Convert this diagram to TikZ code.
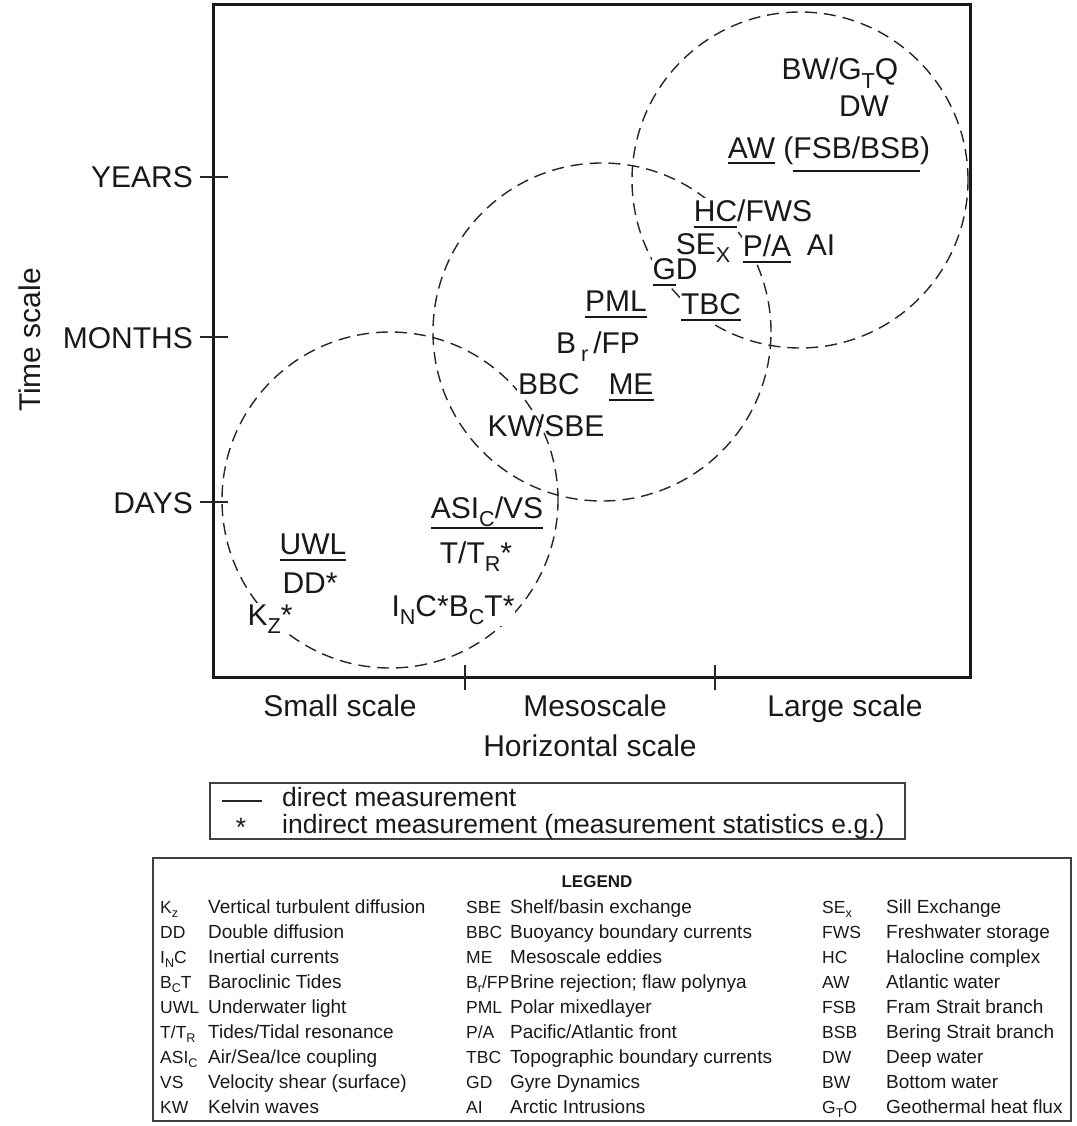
\documentclass[tikz,border=0pt]{standalone}
\usepackage{fontspec}
\setmainfont{Liberation Sans}
\usepackage{graphicx}
\newcommand\lo[1]{\raisebox{-0.28em}{\scalebox{0.72}{#1}}}
\newcommand\ul[2][5pt]{\vtop{\hbox{\raisebox{0pt}[\height][0pt]{#2}}\kern#1\hrule height 1.6pt}}
\tikzset{
  lab/.style={font=\fontsize{30}{34}\selectfont, inner sep=1pt, text=black!90, anchor=base},
  txt/.style={lab, fill=white},
  meas/.style={font=\fontsize{26.5}{30}\selectfont, inner sep=0pt, text=black!90, anchor=base west},
  leg/.style={font=\fontsize{19}{22}\selectfont, anchor=base west, inner sep=0pt, text=black!90},
  abbr/.style={leg, font=\fontsize{17.5}{21}\selectfont},
  circ/.style={dash pattern=on 12pt off 7pt, line width=1.4pt, black!85},
  tick/.style={line width=1.4pt, black!85}
}
\begin{document}
\begin{tikzpicture}[x=1pt,y=-1pt]
\useasboundingbox (0,0) rectangle (1076,1126);
% dashed circles
\draw[circ] (390,500) circle [radius=168pt];
\draw[circ] (602,332) circle [radius=169pt];
\draw[circ] (800,180) circle [radius=168pt];
% frame
\draw[line width=3pt, black!90] (213,5) rectangle (970,677);
% ticks
\draw[tick] (200,177) -- (228,177);
\draw[tick] (200,337) -- (228,337);
\draw[tick] (200,502) -- (228,502);
\draw[tick] (465,665) -- (465,690);
\draw[tick] (715,665) -- (715,690);
% axis labels
\node[lab, anchor=base east] (years) at (194,188) {YEARS};
\node[lab, anchor=base east] (months) at (194,348) {MONTHS};
\node[lab, anchor=base east] (days) at (194,513) {DAYS};
\node[lab, rotate=90, anchor=center] (tscale) at (30,340) {Time scale};
\node[lab] (small) at (340,716) {Small scale};
\node[lab] (meso) at (595,716) {Mesoscale};
\node[lab] (large) at (845,716) {Large scale};
\node[lab] (hscale) at (590,756) {Horizontal scale};
% process labels
\node[txt] (bw) at (840,80) {BW/G\lo{T}Q};
\node[txt] (dw) at (864,117) {DW};
\node[txt] (aw) at (829,159) {\ul[3.5pt]{AW} (\ul[11pt]{FSB/BSB})};
\node[txt] (hc) at (753,221) {\ul{HC}/FWS};
\node[txt] (sex) at (703,254) {SE\lo{X}};
\node[txt] (pa) at (767,256) {\ul{P/A}};
\node[txt] (ai) at (821,255) {AI};
\node[txt] (gd) at (675,279) {\ul{G}D};
\node[txt] (pml) at (616,311) {\ul{PML}};
\node[txt] (tbc) at (711,314) {\ul{TBC}};
\node[txt] (br) at (598,353) {B\,\lo{r}\,/FP};
\node[txt] (bbc) at (549,394) {BBC};
\node[txt] (me) at (631,394) {\ul{ME}};
\node[lab] (kw) at (546,436) {KW/SBE};
\node[txt] (asi) at (487,518) {\ul[9pt]{ASI\lo{C}/VS}};
\node[txt] (ttr) at (476,563) {T/T\lo{R}*};
\node[txt] (uwl) at (313,554) {\ul{UWL}};
\node[txt] (dd) at (310,593) {DD*};
\node[txt] (kz) at (270,625) {K\lo{Z}*};
\node[txt] (inc) at (453,616) {I\lo{N}C*B\lo{C}T*};
% measurement box
\draw[line width=1.5pt, black!75] (210,783) rectangle (905,839);
\draw[line width=1.6pt, black!85] (222,801) -- (262,801);
\node[meas] (direct) at (282,806) {direct measurement};
\node[meas, anchor=base] (star) at (241,836) {*};
\node[meas] (indirect) at (282,833) {indirect measurement (measurement statistics e.g.)};
% legend box
\draw[line width=1.5pt, black!75] (153,858) rectangle (1071,1121);
\node[font=\bfseries\fontsize{17}{20}\selectfont, text=black!90] (legtitle) at (597,882) {LEGEND};
% column 1
\node[abbr] (a1) at (160,913) {K\lo{z}};   \node[leg] (d1) at (208,913) {Vertical turbulent diffusion};
\node[abbr] (a2) at (160,938) {DD};        \node[leg] (d2) at (208,938) {Double diffusion};
\node[abbr] (a3) at (160,963) {I\lo{N}C};  \node[leg] (d3) at (208,963) {Inertial currents};
\node[abbr] (a4) at (160,988) {B\lo{C}T};  \node[leg] (d4) at (208,988) {Baroclinic Tides};
\node[abbr] (a5) at (160,1013) {UWL};      \node[leg] (d5) at (208,1013) {Underwater light};
\node[abbr] (a6) at (160,1038) {T/T\lo{R}};\node[leg] (d6) at (208,1038) {Tides/Tidal resonance};
\node[abbr] (a7) at (160,1063) {ASI\lo{C}};\node[leg] (d7) at (208,1063) {Air/Sea/Ice coupling};
\node[abbr] (a8) at (160,1088) {VS};       \node[leg] (d8) at (208,1088) {Velocity shear (surface)};
\node[abbr] (a9) at (160,1113) {KW};       \node[leg] (d9) at (208,1113) {Kelvin waves};
% column 2
\node[abbr] (b1) at (466,913) {SBE};       \node[leg] (e1) at (510,913) {Shelf/basin exchange};
\node[abbr] (b2) at (466,938) {BBC};       \node[leg] (e2) at (510,938) {Buoyancy boundary currents};
\node[abbr] (b3) at (466,963) {ME};        \node[leg] (e3) at (510,963) {Mesoscale eddies};
\node[abbr] (b4) at (466,988) {B\lo{r}/FP};\node[leg] (e4) at (510,988) {Brine rejection; flaw polynya};
\node[abbr] (b5) at (466,1013) {PML};      \node[leg] (e5) at (510,1013) {Polar mixedlayer};
\node[abbr] (b6) at (466,1038) {P/A};      \node[leg] (e6) at (510,1038) {Pacific/Atlantic front};
\node[abbr] (b7) at (466,1063) {TBC};      \node[leg] (e7) at (510,1063) {Topographic boundary currents};
\node[abbr] (b8) at (466,1088) {GD};       \node[leg] (e8) at (510,1088) {Gyre Dynamics};
\node[abbr] (b9) at (466,1113) {AI};       \node[leg] (e9) at (510,1113) {Arctic Intrusions};
% column 3
\node[abbr] (c1) at (822,913) {SE\lo{x}};  \node[leg] (f1) at (886,913) {Sill Exchange};
\node[abbr] (c2) at (822,938) {FWS};       \node[leg] (f2) at (886,938) {Freshwater storage};
\node[abbr] (c3) at (822,963) {HC};        \node[leg] (f3) at (886,963) {Halocline complex};
\node[abbr] (c4) at (822,988) {AW};        \node[leg] (f4) at (886,988) {Atlantic water};
\node[abbr] (c5) at (822,1013) {FSB};      \node[leg] (f5) at (886,1013) {Fram Strait branch};
\node[abbr] (c6) at (822,1038) {BSB};      \node[leg] (f6) at (886,1038) {Bering Strait branch};
\node[abbr] (c7) at (822,1063) {DW};       \node[leg] (f7) at (886,1063) {Deep water};
\node[abbr] (c8) at (822,1088) {BW};       \node[leg] (f8) at (886,1088) {Bottom water};
\node[abbr] (c9) at (822,1113) {G\lo{T}O};  \node[leg] (f9) at (886,1113) {Geothermal heat flux};
\end{tikzpicture}
\end{document}
